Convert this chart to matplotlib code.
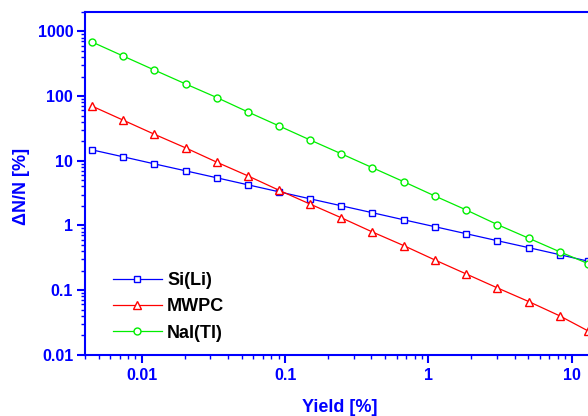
import matplotlib
matplotlib.use("Agg")
import matplotlib.pyplot as plt
from matplotlib.ticker import LogLocator, FuncFormatter, NullFormatter

yield_pct = [0.0045, 0.0074, 0.0122, 0.0202, 0.0333, 0.0548, 0.0905, 0.149,
             0.247, 0.407, 0.674, 1.11, 1.83, 3.03, 5.01, 8.24, 13.0]
si_li = [14.7, 11.5, 8.95, 6.98, 5.45, 4.25, 3.31, 2.58,
         2.01, 1.57, 1.22, 0.955, 0.745, 0.58, 0.453, 0.353, 0.28]
mwpc = [69.7, 42.4, 25.7, 15.8, 9.5, 5.85, 3.5, 2.14,
        1.31, 0.79, 0.486, 0.292, 0.178, 0.108, 0.0665, 0.040, 0.0234]
nai_tl = [684, 416, 253, 154, 95, 57, 34.6, 21.0,
          12.8, 7.8, 4.73, 2.85, 1.74, 1.03, 0.635, 0.392, 0.257]

labels = ["Si(Li)", "MWPC", "NaI(Tl)"]
colors = ["#0000ff", "#ff0000", "#00ee00"]
markers = ["s", "^", "o"]
msizes = [4.4, 5.4, 5.0]

plt.rcParams["font.family"] = ["Liberation Sans", "DejaVu Sans"]
plt.rcParams["font.weight"] = "bold"

W, H = 588, 416
fig = plt.figure(figsize=(W / 100, H / 100), dpi=100)
left_px, right_px, top_px, bot_px = 85, 614.7, 12, 354.7
ax = fig.add_axes([left_px / W, 1 - bot_px / H, (right_px - left_px) / W, (bot_px - top_px) / H])

axis_blue = "#0000ff"
for series, lab, c, m, ms in zip([si_li, mwpc, nai_tl], labels, colors, markers, msizes):
    ax.plot(yield_pct, series, color=c, lw=0.9, marker=m, ms=ms, mfc="white",
            mec=c, mew=1.0, label=lab, clip_on=True)

ax.set_xscale("log")
ax.set_yscale("log")
ax.set_xlim(0.004, 20)
ax.set_ylim(0.01, 2000)

for side in ["left", "top", "bottom"]:
    ax.spines[side].set_color(axis_blue)
    ax.spines[side].set_linewidth(1.5)
ax.spines["right"].set_visible(False)

fmt = FuncFormatter(lambda v, p: "%g" % v)
ax.xaxis.set_major_locator(LogLocator(base=10, numticks=20))
ax.yaxis.set_major_locator(LogLocator(base=10, numticks=20))
ax.xaxis.set_minor_locator(LogLocator(base=10, subs=range(2, 10), numticks=20))
ax.yaxis.set_minor_locator(LogLocator(base=10, subs=range(2, 10), numticks=20))
ax.xaxis.set_major_formatter(fmt)
ax.yaxis.set_major_formatter(fmt)
ax.xaxis.set_minor_formatter(NullFormatter())
ax.yaxis.set_minor_formatter(NullFormatter())

ax.tick_params(axis="both", which="major", direction="out", length=5.5, width=1.5,
               color=axis_blue, labelcolor=axis_blue, labelsize=11.5)
ax.tick_params(axis="both", which="minor", direction="out", length=3, width=1.0,
               color=axis_blue)
ax.tick_params(axis="x", which="major", pad=4)
ax.tick_params(axis="y", which="major", pad=3)
for t in ax.get_xticklabels() + ax.get_yticklabels():
    t.set_fontweight("bold")

fig.text(340 / W, 1 - 407 / H, "Yield [%]", color=axis_blue, fontsize=13,
         fontweight="bold", ha="center", va="center")
fig.text(22 / W, 1 - 186 / H, "ΔN/N [%]", color=axis_blue, fontsize=13,
         fontweight="bold", ha="center", va="center", rotation=90)

leg = ax.legend(loc="upper left", bbox_to_anchor=(113 / W, 1 - 272 / H),
                bbox_transform=fig.transFigure, frameon=False, fontsize=13,
                handlelength=2.7, handletextpad=0.3, labelspacing=0.52,
                borderpad=0, borderaxespad=0)
for t in leg.get_texts():
    t.set_fontweight("bold")
    t.set_color("black")

fig.savefig("out.png", dpi=100)
